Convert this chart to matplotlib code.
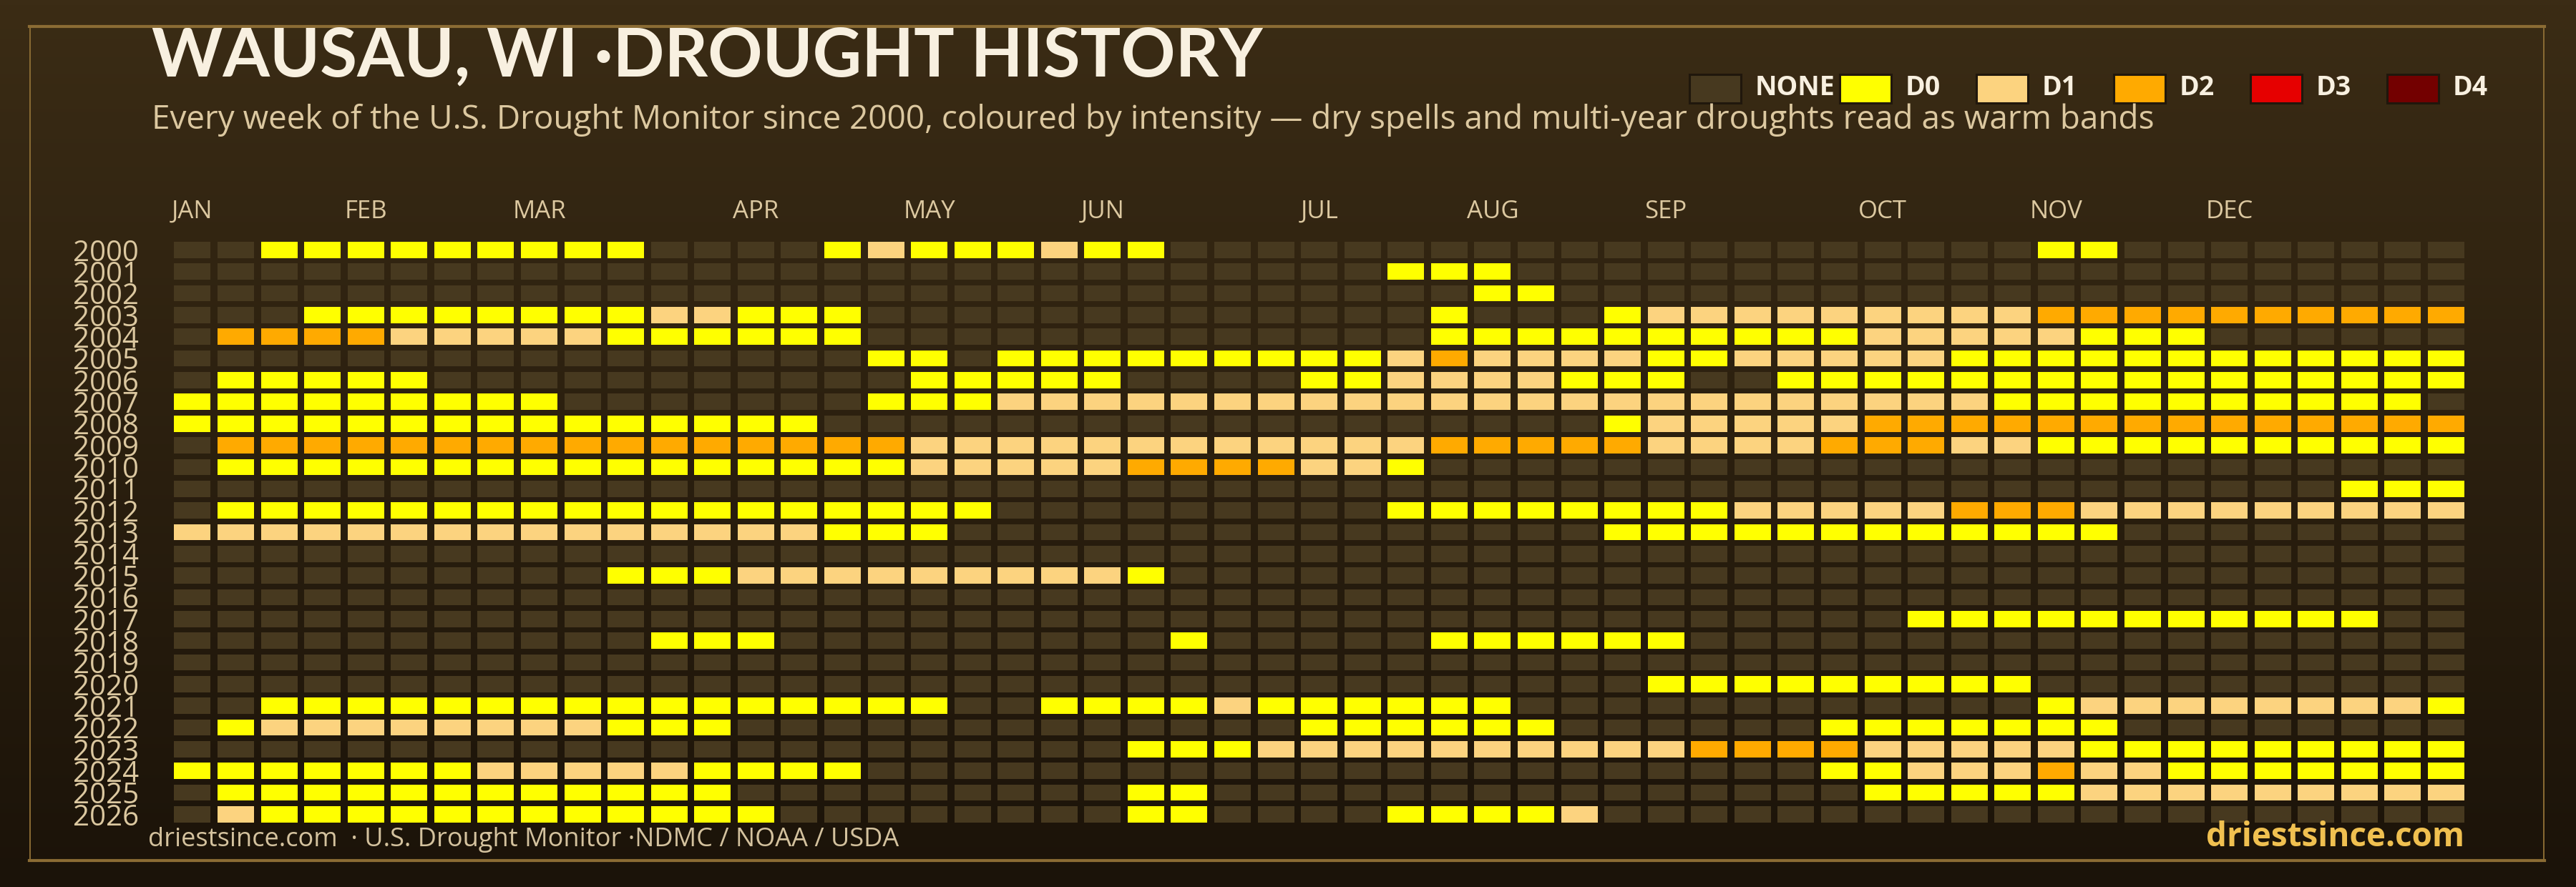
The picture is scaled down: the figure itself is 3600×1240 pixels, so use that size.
import numpy as np
import matplotlib
matplotlib.use("Agg")
import matplotlib.pyplot as plt
from matplotlib.patches import Rectangle
from matplotlib.lines import Line2D
from matplotlib.colors import LinearSegmentedColormap
from matplotlib.transforms import blended_transform_factory

plt.rcParams['font.family'] = ['Open Sans', 'DejaVu Sans']

years = list(range(2000, 2027))
months = ["JAN", "FEB", "MAR", "APR", "MAY", "JUN",
          "JUL", "AUG", "SEP", "OCT", "NOV", "DEC"]
month_weeks = [0, 4, 8, 13, 17, 21, 26, 30, 34, 39, 43, 47]
levels = ["NONE", "D0", "D1", "D2", "D3", "D4"]
level_colors = ["#47391f", "#ffff00", "#fcd37f", "#ffaa00", "#e60000", "#730000"]

# weekly USDM class per year, 0 = none, 1 = D0, 2 = D1, 3 = D2
# (spaces only mark the month starts)
drought_weeks = [
    "0011 1111 11100 0012 1112 11000 0000 0000 00000 0000 1100 000000",  # 2000
    "0000 0000 00000 0000 0000 00000 0011 1000 00000 0000 0000 000000",
    "0000 0000 00000 0000 0000 00000 0000 1100 00000 0000 0000 000000",
    "0001 1111 11122 1110 0000 00000 0001 0001 22222 2222 3333 333333",
    "0333 3222 22111 1110 0000 00000 0001 1111 11111 2222 2111 000000",
    "0000 0000 00000 0001 1011 11111 1123 2222 11222 2211 1111 111111",  # 2005
    "0111 1100 00000 0000 1111 10000 1122 2211 10011 1111 1111 111111",
    "1111 1111 10000 0001 1122 22222 2222 2222 22222 2221 1111 111110",
    "1111 1111 11111 1100 0000 00000 0000 0001 22222 3333 3333 333333",
    "0333 3333 33333 3333 2222 22222 2223 3333 22223 3322 1111 111111",
    "0111 1111 11111 1111 2222 23333 2210 0000 00000 0000 0000 000000",  # 2010
    "0000 0000 00000 0000 0000 00000 0000 0000 00000 0000 0000 000111",
    "0111 1111 11111 1111 1100 00000 0011 1111 11222 2233 3222 222222",
    "2222 2222 22222 2211 1000 00000 0000 0001 11111 1111 1100 000000",
    "0000 0000 00000 0000 0000 00000 0000 0000 00000 0000 0000 000000",
    "0000 0000 00111 2222 2222 21000 0000 0000 00000 0000 0000 000000",  # 2015
    "0000 0000 00000 0000 0000 00000 0000 0000 00000 0000 0000 000000",
    "0000 0000 00000 0000 0000 00000 0000 0000 00000 0111 1111 111100",
    "0000 0000 00011 1000 0000 00100 0001 1111 10000 0000 0000 000000",
    "0000 0000 00000 0000 0000 00000 0000 0000 00000 0000 0000 000000",
    "0000 0000 00000 0000 0000 00000 0000 0000 11111 1111 0000 000000",  # 2020
    "0011 1111 11111 1111 1001 11121 1111 1000 00000 0000 1222 222221",
    "0122 2222 22111 0000 0000 00000 1111 1100 00001 1111 1100 000000",
    "0000 0000 00000 0000 0000 01112 2222 2222 23333 2222 2111 111111",
    "1111 1112 22221 1110 0000 00000 0000 0000 00001 1222 3221 111111",
    "0111 1111 11111 0000 0000 01100 0000 0000 00000 1111 1222 222222",  # 2025
    "0211 1111 11111 1000 0000 01100 0011 1120 00000 0000 0000 000000",
]

W, H = 3600, 1240
fig = plt.figure(figsize=(36, 12.4), dpi=100)


def fx(px):
    return px / W


def fy(py):
    return 1 - py / H


# background gradient
bg = fig.add_axes([0, 0, 1, 1], zorder=-10)
grad = LinearSegmentedColormap.from_list("bg", ["#3b2c15", "#1b1309"])
bg.imshow(np.linspace(0, 1, 256)[:, None], cmap=grad, aspect="auto",
          extent=[0, 1, 0, 1], interpolation="bilinear")
bg.set_axis_off()

# frame
gold = "#8b6c34"
fig.add_artist(Line2D([fx(41), fx(3556)], [fy(37), fy(37)], transform=fig.transFigure, color=gold, lw=3))
fig.add_artist(Line2D([fx(41), fx(3556)], [fy(1203), fy(1203)], transform=fig.transFigure, color=gold, lw=3))
fig.add_artist(Line2D([fx(42), fx(42)], [fy(37), fy(1203)], transform=fig.transFigure, color=gold, lw=1.4))
fig.add_artist(Line2D([fx(3555), fx(3555)], [fy(37), fy(1203)], transform=fig.transFigure, color=gold, lw=1.4))

# heatmap grid
ax = fig.add_axes([fx(238.6), fy(1153.6), 3210.2 / W, 819.4 / H])
ax.set_xlim(-0.5, 52.5)
ax.set_ylim(len(years) - 0.5, -0.5)
ax.set_facecolor("none")
for s in ax.spines.values():
    s.set_visible(False)

weeks = np.arange(53)
for r, row in enumerate(drought_weeks):
    vals = [int(c) for c in row.replace(" ", "")]
    ax.bar(weeks, 0.748, width=0.842, bottom=r - 0.374,
           color=[level_colors[v] for v in vals], linewidth=0)

ax.set_xticks([])
ax.set_yticks(range(len(years)))
ax.set_yticklabels([str(y) for y in years], fontsize=29, color="#dcc8a0")
ax.tick_params(axis="y", length=0, pad=32)

tr = blended_transform_factory(ax.transData, fig.transFigure)
for m, w in zip(months, month_weeks):
    ax.text(w, fy(305), m, transform=tr, ha="center", va="baseline",
            fontsize=25, color="#dcc8a0")

# titles
fig.text(fx(212), fy(106), "WAUSAU, WI ·DROUGHT HISTORY", fontsize=68,
         fontweight="bold", color="#f8f0e0", va="baseline", family=["Lato", "DejaVu Sans"])
fig.text(fx(212), fy(180),
         "Every week of the U.S. Drought Monitor since 2000, coloured by intensity "
         "\u2014 dry spells and multi-year droughts read as warm bands",
         fontsize=33, color="#dcc8a0", va="baseline")

# legend
leg_x = [2361, 2571, 2762, 2954, 3145, 3336]
for x, lab, col in zip(leg_x, levels, level_colors):
    fig.add_artist(Rectangle((fx(x), fy(144)), 72 / W, 40 / H, transform=fig.transFigure,
                             facecolor=col, edgecolor="#20170c", lw=2.2))
    fig.text(fx(x + 92), fy(133), lab, fontsize=27, fontweight="bold",
             color="#f8f0e0", va="baseline")

# footer
fig.text(fx(207), fy(1183), "driestsince.com  \u00b7 U.S. Drought Monitor \u00b7NDMC / NOAA / USDA",
         fontsize=26, color="#d4c29e", va="baseline")
fig.text(fx(3444), fy(1183), "driestsince.com", fontsize=33, fontweight="bold",
         color="#f0c050", va="baseline", ha="right")

fig.savefig("out.png", dpi=100)
